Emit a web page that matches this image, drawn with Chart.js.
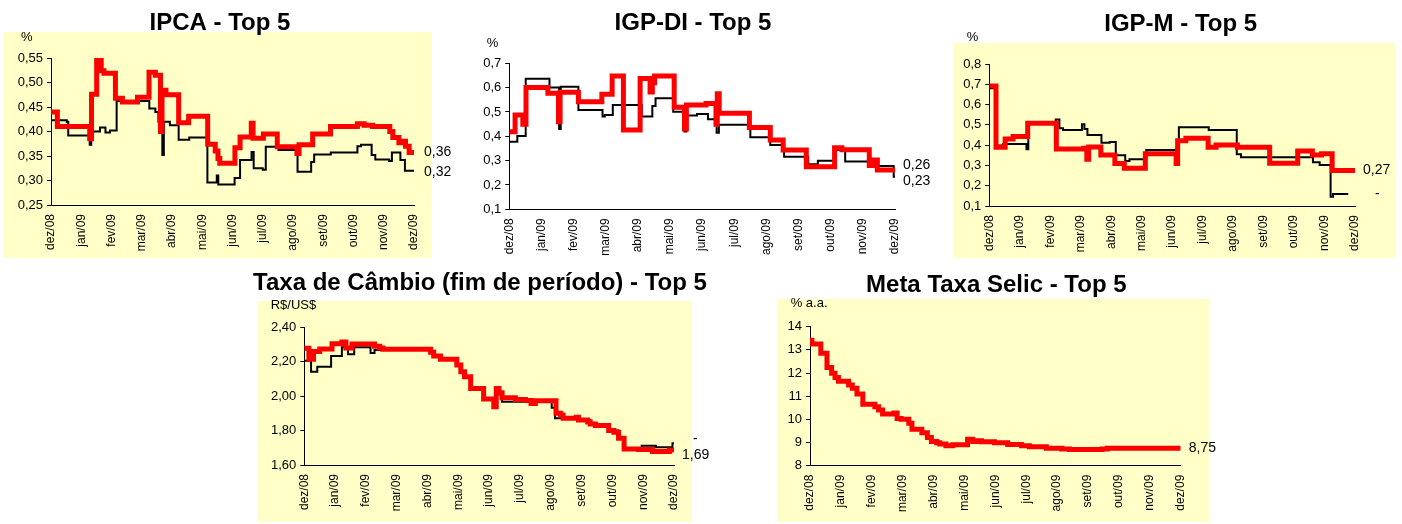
<!DOCTYPE html>
<html>
<head>
<meta charset="utf-8">
<script src="https://cdn.jsdelivr.net/npm/chart.js@4"></script>
<style>
  body { margin: 0; background: #fff; }
  #page { position: relative; width: 1402px; height: 524px; overflow: hidden; }
  .box { position: absolute; background: #ffffc8; }
  canvas { position: absolute; }
</style>
</head>
<body>
<div id="page">
  <div class="box" style="left:3px;top:32px;width:429px;height:226px"></div>
  <div class="box" style="left:953px;top:43px;width:442px;height:215px"></div>
  <div class="box" style="left:257px;top:301px;width:435px;height:221px"></div>
  <div class="box" style="left:777px;top:299px;width:433px;height:223px"></div>
  <canvas id="ipca" width="470" height="260" style="left:-15px;top:0"></canvas>
  <canvas id="igpdi" width="500" height="260" style="left:443px;top:0"></canvas>
  <canvas id="igpm" width="440" height="260" style="left:961px;top:0"></canvas>
  <canvas id="cambio" width="470" height="262" style="left:245px;top:262px"></canvas>
  <canvas id="selic" width="444" height="262" style="left:774px;top:262px"></canvas>
</div>
<script>
// x = months since dez/08, y = value (step changes)
const months = ['dez/08','jan/09','fev/09','mar/09','abr/09','mai/09','jun/09','jul/09','ago/09','set/09','out/09','nov/09','dez/09'];

const ipcaTicks = [0.25, 0.30, 0.35, 0.40, 0.45, 0.50, 0.55];
const ipcaRed = [[0,0.440],[0.21,0.410],[1.28,0.385],[1.34,0.476],[1.51,0.548],[1.66,0.524],[1.75,0.519],[2.13,0.468],[2.36,0.460],[2.86,0.470],[3.24,0.521],[3.45,0.515],[3.62,0.400],[3.67,0.484],[3.80,0.475],[4.22,0.418],[4.55,0.431],[5.18,0.374],[5.43,0.360],[5.52,0.345],[5.58,0.335],[6.08,0.367],[6.25,0.389],[6.62,0.417],[6.68,0.386],[7.02,0.395],[7.48,0.369],[8.13,0.355],[8.20,0.373],[8.65,0.395],[9.24,0.410],[10.13,0.416],[10.35,0.413],[10.63,0.410],[11.20,0.400],[11.30,0.388],[11.50,0.377],[11.62,0.380],[11.72,0.370],[11.84,0.357],[12,0.357]];
const ipcaBlack = [[0,0.423],[0.52,0.420],[0.57,0.392],[1.28,0.373],[1.33,0.400],[1.62,0.408],[1.80,0.398],[1.95,0.402],[2.17,0.462],[3.25,0.447],[3.45,0.440],[3.55,0.420],[3.64,0.415],[3.68,0.352],[3.73,0.420],[3.93,0.413],[4.22,0.383],[4.57,0.388],[5.17,0.296],[5.48,0.310],[5.53,0.292],[6.07,0.305],[6.25,0.342],[6.63,0.358],[6.70,0.325],[7.00,0.322],[7.10,0.369],[7.52,0.362],[8.15,0.318],[8.60,0.338],[8.70,0.353],[9.25,0.357],[10.13,0.370],[10.25,0.373],[10.60,0.352],[10.72,0.343],[11.18,0.340],[11.27,0.357],[11.55,0.342],[11.70,0.320],[12,0.318]];
const ipcaEnd = ['0,36', '0,32'];

const igpdiTicks = [0.1, 0.2, 0.3, 0.4, 0.5, 0.6, 0.7];
const igpdiRed = [[0,0.419],[0.18,0.488],[0.42,0.450],[0.52,0.601],[1.20,0.577],[1.53,0.460],[1.58,0.581],[2.15,0.542],[2.88,0.573],[3.20,0.648],[3.55,0.426],[4.07,0.638],[4.38,0.582],[4.45,0.620],[4.52,0.648],[5.13,0.519],[5.45,0.430],[5.51,0.529],[6.12,0.535],[6.43,0.450],[6.47,0.575],[6.53,0.495],[7.47,0.436],[8.12,0.385],[8.52,0.344],[9.24,0.275],[10.12,0.353],[10.35,0.345],[11.20,0.280],[11.32,0.303],[11.45,0.262],[12,0.262]];
const igpdiBlack = [[0,0.378],[0.25,0.401],[0.51,0.636],[1.25,0.601],[1.55,0.430],[1.60,0.604],[2.15,0.508],[2.90,0.481],[2.97,0.488],[3.22,0.529],[4.12,0.481],[4.45,0.525],[4.55,0.556],[5.10,0.501],[5.45,0.420],[5.51,0.485],[5.84,0.492],[6.18,0.470],[6.45,0.415],[6.52,0.447],[7.50,0.396],[8.12,0.364],[8.55,0.316],[9.30,0.285],[9.60,0.300],[10.13,0.344],[10.45,0.296],[11.28,0.305],[11.48,0.278],[11.96,0.234],[12,0.234]];
const igpdiEnd = ['0,26', '0,23'];

const igpmTicks = [0.1, 0.2, 0.3, 0.4, 0.5, 0.6, 0.7, 0.8];
const igpmRed = [[0,0.692],[0.22,0.390],[0.52,0.430],[0.78,0.442],[1.26,0.508],[2.20,0.381],[3.10,0.385],[3.20,0.330],[3.26,0.391],[3.66,0.352],[4.12,0.310],[4.43,0.286],[5.12,0.357],[6.13,0.310],[6.18,0.422],[6.45,0.434],[7.18,0.390],[7.44,0.401],[8.14,0.390],[9.20,0.311],[10.12,0.371],[10.60,0.352],[10.90,0.357],[11.25,0.275],[12,0.275]];
const igpmBlack = [[0,0.680],[0.22,0.398],[0.46,0.406],[1.22,0.380],[1.28,0.508],[2.18,0.527],[2.30,0.483],[2.42,0.475],[3.04,0.503],[3.12,0.480],[3.22,0.450],[3.68,0.412],[3.95,0.415],[4.15,0.350],[4.46,0.322],[4.60,0.330],[5.15,0.376],[6.22,0.488],[7.20,0.475],[8.12,0.355],[8.26,0.340],[10.62,0.316],[10.84,0.302],[11.20,0.146],[11.28,0.159],[11.78,0.159]];
const igpmEnd = ['0,27', '-'];

const cambioTicks = [1.60, 1.80, 2.00, 2.20, 2.40];
const cambioRed = [[0,2.278],[0.15,2.214],[0.30,2.259],[0.50,2.274],[0.90,2.305],[1.22,2.315],[1.35,2.280],[1.55,2.303],[2.28,2.290],[2.45,2.280],[2.55,2.272],[4.10,2.255],[4.20,2.233],[4.42,2.214],[4.95,2.181],[5.08,2.142],[5.20,2.113],[5.40,2.044],[5.82,1.984],[6.15,1.939],[6.23,2.044],[6.32,2.020],[6.42,1.991],[6.85,1.980],[7.18,1.975],[7.36,1.958],[7.50,1.974],[8.17,1.900],[8.32,1.890],[8.40,1.871],[8.83,1.878],[8.90,1.861],[9.20,1.850],[9.28,1.838],[9.45,1.829],[9.88,1.800],[10.05,1.790],[10.20,1.755],[10.38,1.693],[10.85,1.690],[11.30,1.678],[11.85,1.687],[12,1.687]];
const cambioBlack = [[0,2.206],[0.22,2.142],[0.42,2.171],[0.87,2.233],[1.22,2.284],[1.42,2.243],[1.62,2.284],[2.15,2.250],[2.28,2.268],[4.10,2.255],[4.20,2.233],[4.42,2.214],[4.95,2.181],[5.08,2.142],[5.20,2.113],[5.40,2.044],[5.82,1.984],[6.15,1.945],[6.23,2.030],[6.32,2.010],[6.42,1.968],[7.36,1.958],[7.50,1.974],[8.03,1.933],[8.14,1.871],[8.90,1.861],[9.28,1.838],[9.45,1.829],[9.88,1.800],[10.20,1.755],[10.38,1.693],[10.95,1.712],[11.41,1.703],[11.95,1.726],[12,1.726]];
const cambioEnd = ['1,69', '-'];

const selicTicks = [8, 9, 10, 11, 12, 13, 14];
const selicRed = [[0,13.42],[0.06,13.25],[0.35,12.85],[0.55,12.24],[0.70,11.99],[0.81,11.81],[0.92,11.65],[1.25,11.48],[1.37,11.34],[1.52,11.09],[1.71,10.65],[2.10,10.55],[2.22,10.40],[2.35,10.23],[2.72,10.28],[2.82,10.04],[2.95,10.00],[3.20,9.83],[3.30,9.57],[3.62,9.42],[3.80,9.22],[3.93,9.04],[4.10,8.99],[4.20,8.94],[4.40,8.86],[4.62,8.90],[5.10,9.14],[5.27,9.04],[5.43,9.08],[5.55,9.03],[5.97,8.99],[6.40,8.92],[6.85,8.86],[7.10,8.82],[7.65,8.75],[8.15,8.72],[8.40,8.70],[9.45,8.72],[9.62,8.75],[12,8.75]];
const selicEnd = ['8,75'];

const FONT = 'Liberation Sans, Arial, sans-serif';

// title, unit label top-left and value labels at the right end of each line
const annot = {
    id: 'annot',
    afterDatasetsDraw(chart, args, opts) {
        const ctx = chart.ctx, area = chart.chartArea, y = chart.scales.y;
        ctx.save();
        ctx.fillStyle = '#000';
        ctx.textAlign = 'center';
        ctx.textBaseline = 'alphabetic';
        ctx.font = 'bold 24px ' + FONT;
        ctx.fillText(opts.title, opts.tx, opts.ty);
        ctx.textBaseline = 'middle';
        ctx.textAlign = 'left';
        ctx.font = '13px ' + FONT;
        ctx.fillText(opts.unit, area.left + opts.ux, area.top + opts.uy);
        ctx.font = '14px ' + FONT;
        const items = opts.ends.map((t, i) => {
            const d = chart.data.datasets[i].data;
            return { t, dx: opts.dx[i], py: y.getPixelForValue(d[d.length - 1].y) };
        });
        if (items.length == 2 && Math.abs(items[0].py - items[1].py) < 16) {
            const mid = (items[0].py + items[1].py) / 2;
            const up = items[0].py < items[1].py ? 0 : 1;
            items[up].py = mid - 8;
            items[1 - up].py = mid + 8;
        }
        items.forEach(it => ctx.fillText(it.t, area.right + it.dx, it.py));
        ctx.restore();
    }
};

function makeChart(id, c) {
    const fmt = v => c.dec == 0 ? String(v) : v.toFixed(c.dec).replace('.', ',');
    const sets = c.series.map((s, i) => ({
        data: s.map(p => ({ x: p[0], y: p[1] })),
        borderColor: i == 0 ? '#ff0000' : '#000000',
        borderWidth: i == 0 ? 5 : 2,
        stepped: true,
        pointRadius: 0,
        order: i   // red on top
    }));
    return new Chart(document.getElementById(id), {
        type: 'line',
        data: { datasets: sets },
        options: {
            responsive: false,
            animation: false,
            layout: { padding: { left: 0, right: c.padRight, top: c.padTop, bottom: 0 } },
            plugins: {
                legend: { display: false },
                tooltip: { enabled: false },
                annot: { title: c.title, tx: c.tx, ty: c.ty, unit: c.unit, ux: c.ux, uy: c.uy, ends: c.ends, dx: c.dx }
            },
            scales: {
                x: {
                    type: 'linear',
                    min: 0,
                    max: 12,
                    afterBuildTicks: s => { s.ticks = months.map((m, i) => ({ value: i })); },
                    afterFit: s => { s.height = c.xH; },
                    grid: { display: false, drawTicks: false },
                    border: { display: true, color: '#000', width: 1 },
                    ticks: {
                        autoSkip: false,
                        minRotation: 90,
                        maxRotation: 90,
                        padding: 9,
                        color: '#000',
                        font: { family: FONT, size: 12 },
                        callback: v => months[v]
                    }
                },
                y: {
                    min: c.ticks[0],
                    max: c.ticks[c.ticks.length - 1],
                    afterBuildTicks: s => { s.ticks = c.ticks.map(v => ({ value: v })); },
                    afterFit: s => { s.width = c.yW; },
                    grid: { drawOnChartArea: false, drawTicks: true, tickLength: 4, color: '#000' },
                    border: { display: true, color: '#000', width: 1 },
                    ticks: {
                        padding: 4,
                        color: '#000',
                        font: { family: FONT, size: 13 },
                        callback: v => fmt(v)
                    }
                }
            }
        },
        plugins: [annot]
    });
}

makeChart('ipca', {
    title: 'IPCA - Top 5', tx: 235, ty: 29.5,
    series: [ipcaRed, ipcaBlack], ticks: ipcaTicks, dec: 2,
    yW: 66, padRight: 41, padTop: 58, xH: 55,
    unit: '%', ux: -30, uy: -21, ends: ipcaEnd, dx: [10, 10]
});
makeChart('igpdi', {
    title: 'IGP-DI - Top 5', tx: 250, ty: 30,
    series: [igpdiRed, igpdiBlack], ticks: igpdiTicks, dec: 1,
    yW: 66.3, padRight: 48, padTop: 63.3, xH: 50.7,
    unit: '%', ux: -22.6, uy: -20, ends: igpdiEnd, dx: [8, 8]
});
makeChart('igpm', {
    title: 'IGP-M - Top 5', tx: 219.7, ty: 30.7,
    series: [igpmRed, igpmBlack], ticks: igpmTicks, dec: 1,
    yW: 28.3, padRight: 46, padTop: 64, xH: 54,
    unit: '%', ux: -22.6, uy: -27, ends: igpmEnd, dx: [8, 20]
});
makeChart('cambio', {
    title: 'Taxa de Câmbio (fim de período) - Top 5', tx: 235, ty: 28,
    series: [cambioRed, cambioBlack], ticks: cambioTicks, dec: 2,
    yW: 59.3, padRight: 41, padTop: 65.3, xH: 59,
    unit: 'R$/US$', ux: -33.6, uy: -21.6, ends: cambioEnd, dx: [8, 19]
});
makeChart('selic', {
    title: 'Meta Taxa Selic - Top 5', tx: 222.3, ty: 29.7,
    series: [selicRed], ticks: selicTicks, dec: 0,
    yW: 36, padRight: 37.3, padTop: 64.7, xH: 58.3,
    unit: '% a.a.', ux: -19.3, uy: -23.7, ends: selicEnd, dx: [8]
});
</script>
</body>
</html>
